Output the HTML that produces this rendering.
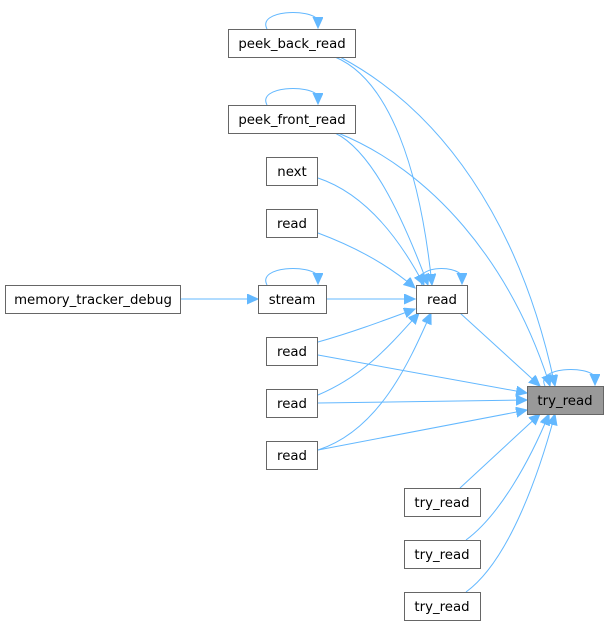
<!DOCTYPE html>
<html><head><meta charset="utf-8"><style>
html,body{margin:0;padding:0;background:#fff;}
svg{display:block;}
text{font-family:"DejaVu Sans","Liberation Sans",sans-serif;font-size:13.3px;fill:#000;}
</style></head><body>
<svg width="608" height="625" viewBox="0 0 608 625" xmlns="http://www.w3.org/2000/svg">
<defs>
<marker id="a" markerUnits="userSpaceOnUse" markerWidth="12" markerHeight="12" refX="11" refY="5" orient="auto">
<path d="M0,0 L11,5 L0,10 Z" fill="#63b8ff" stroke="#63b8ff"/>
</marker>
</defs>
<g fill="none" stroke="#63b8ff" stroke-width="1" marker-end="url(#a)">
<path d="M267,29 C257,10 310,8 318,20 L318,28"/>
<path d="M267,105 C257,86 310,84 318,96 L318,104"/>
<path d="M267,285 C257,266 310,264 318,276 L318,284"/>
<path d="M422,285 C412,266 455,264 462,276 L462,284"/>
<path d="M545,386 C535,367 588,365 595,377 L595,385"/>
<path d="M335,57 C390,80 420,170 432,285"/>
<path d="M335,133 C370,150 400,210 428,285"/>
<path d="M318,178 C360,192 395,230 424,285"/>
<path d="M318,233 C350,245 385,262 415,288"/>
<path d="M326,299 L415,299"/>
<path d="M318,342 C350,333 380,322 415,309"/>
<path d="M318,395 C365,375 390,345 419,313"/>
<path d="M318,450 C380,430 410,360 431,313"/>
<path d="M180,299 L258,299"/>
<path d="M340,57 C440,110 520,220 555,386"/>
<path d="M338,133 C430,170 510,260 550,386"/>
<path d="M460,313 L540,386"/>
<path d="M318,355 L527,393"/>
<path d="M318,403 L527,400"/>
<path d="M318,450 L527,410"/>
<path d="M460,488 L540,414"/>
<path d="M466,540 C500,515 530,460 549,414"/>
<path d="M466,592 C510,560 540,470 555,414"/>
</g>
<g stroke="#666" stroke-width="1" fill="#fff">
<rect x="228.5" y="29.5" width="127" height="28"/>
<rect x="228.5" y="105.5" width="127" height="28"/>
<rect x="266.5" y="157.5" width="51" height="28"/>
<rect x="266.5" y="209.5" width="51" height="28"/>
<rect x="5.5" y="285.5" width="175" height="28"/>
<rect x="258.5" y="285.5" width="68" height="28"/>
<rect x="416.5" y="285.5" width="51" height="28"/>
<rect x="266.5" y="337.5" width="51" height="28"/>
<rect x="266.5" y="389.5" width="51" height="28"/>
<rect x="266.5" y="441.5" width="51" height="28"/>
<rect x="527.5" y="386.5" width="76" height="28" fill="#999"/>
<rect x="404.5" y="488.5" width="76" height="28"/>
<rect x="404.5" y="540.5" width="76" height="28"/>
<rect x="404.5" y="592.5" width="76" height="28"/>
</g>
<g text-anchor="middle">
<text x="292" y="48">peek_back_read</text>
<text x="292" y="124">peek_front_read</text>
<text x="292" y="176">next</text>
<text x="292" y="228">read</text>
<text x="93" y="304">memory_tracker_debug</text>
<text x="292" y="304">stream</text>
<text x="442" y="304">read</text>
<text x="292" y="356">read</text>
<text x="292" y="408">read</text>
<text x="292" y="460">read</text>
<text x="565" y="405">try_read</text>
<text x="442" y="507">try_read</text>
<text x="442" y="559">try_read</text>
<text x="442" y="611">try_read</text>
</g>
</svg>
</body></html>
